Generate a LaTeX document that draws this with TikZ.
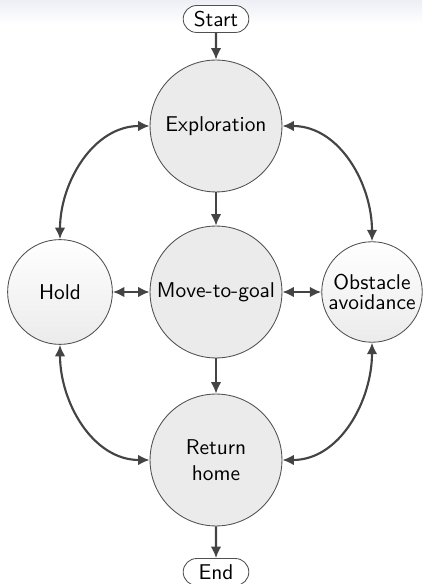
\documentclass[tikz,border=0pt]{standalone}
\usepackage{tikz}
\usetikzlibrary{arrows.meta,shapes.misc}
\definecolor{flInk}{HTML}{444444}
\definecolor{flEdge}{HTML}{505050}
\definecolor{flFill}{HTML}{EBEBEB}
\definecolor{flHead}{HTML}{EDEFF5}
\tikzset{
  % Main state circle (flat gray)
  mstate/.style={circle,draw=flEdge,fill=flFill,
    minimum size=61.7pt,inner sep=0pt,
    align=center,font=\sffamily,text=black},
  % Side state circle (shaded)
  sstate/.style={circle,draw=flEdge,
    top color=white,bottom color=flFill,
    minimum size=48pt,inner sep=0pt,
    align=center,font=\sffamily,text=black},
  % Start / end terminal
  term/.style={rounded rectangle,draw=flEdge,fill=white,
    minimum width=32.7pt,minimum height=12.6pt,inner sep=1pt,
    font=\sffamily,text=black},
  % Arrows
  arr/.style={-{Latex[length=5.4pt,width=5pt]},line width=1pt,color=flInk},
  darr/.style={{Latex[length=5.4pt,width=5pt]}-{Latex[length=5.4pt,width=5pt]},
    line width=1pt,color=flInk},
}
\begin{document}
\begin{tikzpicture}[x=0.4677pt,y=-0.4677pt]
  \useasboundingbox (0,0) rectangle (422,584);
  % Headline strip
  \shade[top color=flHead,bottom color=white] (0,0) rectangle (422,24);

  % States
  \node[term]   (start) at (216,19)  {Start};
  \node[mstate] (explo) at (216,126) {Exploration};
  \node[mstate] (goal)  at (216,292) {Move-to-goal};
  \node[mstate] (home)  at (216,460) {Return\\home};
  \node[term]   (stop)  at (216,572) {End};
  \node[sstate,minimum size=49pt] (hold) at (60,292) {Hold};
  \node[sstate,minimum size=47pt] (obst) at (372,292) {Obstacle\\[-3pt]avoidance};

  % Main flow
  \draw[arr] (start) -- (explo);
  \draw[arr] (explo) -- (goal);
  \draw[arr] (goal) -- (home);
  \draw[arr] (home) -- (stop);

  % Side transitions
  \draw[darr] (hold) -- (goal);
  \draw[darr] (goal) -- (obst);
  \draw[darr] (hold.north) to[out=90,in=180] (explo.west);
  \draw[darr] (obst.north) to[out=90,in=0] (explo.east);
  \draw[darr] (hold.south) to[out=-90,in=180] (home.west);
  \draw[darr] (obst.south) to[out=-90,in=0] (home.east);
\end{tikzpicture}
\end{document}
